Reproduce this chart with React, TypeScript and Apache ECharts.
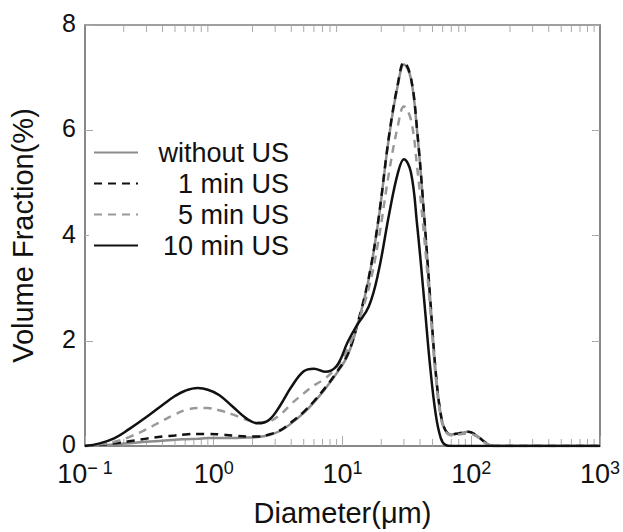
import React, { useEffect, useRef } from "react";
import * as echarts from "echarts";

// Particle diameter (µm)
const diameters = [0.1, 0.13, 0.17, 0.22, 0.3, 0.4, 0.5, 0.6, 0.75, 0.9, 1.1, 1.4, 1.8, 2.2, 2.7, 3.3, 4, 5, 6, 7.3, 9, 11, 13, 16, 19, 23, 27, 30, 34, 38, 43, 48, 53, 58, 63, 70, 80, 95, 110, 130, 150, 200, 1000];

// Volume fraction (%)
const withoutUS = [0, 0.01, 0.03, 0.05, 0.08, 0.1, 0.12, 0.13, 0.14, 0.15, 0.15, 0.15, 0.16, 0.17, 0.21, 0.29, 0.43, 0.63, 0.83, 1.08, 1.38, 1.73, 2.28, 3.18, 4.28, 5.88, 6.88, 7.25, 6.98, 5.98, 4.4, 2.8, 1.4, 0.6, 0.3, 0.22, 0.24, 0.27, 0.2, 0.06, 0, 0, 0];
const min1US = [0, 0.02, 0.05, 0.09, 0.14, 0.18, 0.2, 0.22, 0.23, 0.23, 0.22, 0.2, 0.18, 0.18, 0.22, 0.3, 0.45, 0.65, 0.85, 1.1, 1.4, 1.75, 2.3, 3.2, 4.3, 5.9, 6.9, 7.29, 7.0, 6.0, 4.4, 2.8, 1.4, 0.6, 0.3, 0.22, 0.24, 0.27, 0.2, 0.06, 0, 0, 0];
const min5US = [0, 0.03, 0.08, 0.17, 0.32, 0.48, 0.6, 0.68, 0.72, 0.72, 0.68, 0.6, 0.5, 0.45, 0.47, 0.6, 0.8, 1.0, 1.15, 1.28, 1.5, 1.85, 2.3, 3.0, 3.9, 5.2, 6.1, 6.45, 6.2, 5.3, 4.0, 2.6, 1.3, 0.55, 0.28, 0.2, 0.22, 0.24, 0.18, 0.05, 0, 0, 0];
const min10US = [0, 0.05, 0.15, 0.32, 0.55, 0.78, 0.95, 1.05, 1.1, 1.07, 0.97, 0.75, 0.52, 0.43, 0.5, 0.78, 1.12, 1.42, 1.47, 1.41, 1.52, 1.98, 2.3, 2.65, 3.3, 4.4, 5.2, 5.45, 5.2, 4.2, 2.8, 1.5, 0.6, 0.15, 0.02, 0, 0, 0, 0, 0, 0, 0, 0];

const seriesNames = ["without US", "1 min US", "5 min US", "10 min US"];

// Minor log ticks (2..9 × decade)
const minorTicks = [
  0.2, 0.3, 0.4, 0.5, 0.6, 0.7, 0.8, 0.9,
  2, 3, 4, 5, 6, 7, 8, 9,
  20, 30, 40, 50, 60, 70, 80, 90,
  200, 300, 400, 500, 600, 700, 800, 900,
];

const FONT = "Liberation Sans, Arial, sans-serif";

export default function App() {
  const ref = useRef<HTMLDivElement>(null);

  useEffect(() => {
    if (!ref.current) return;
    const chart = echarts.init(ref.current, undefined, { renderer: "svg" });
    const pair = (arr: number[]) => diameters.map((d, i) => [d, arr[i]]);
    const option: any = {
      animation: false,
      backgroundColor: "#fff",
      textStyle: { fontFamily: FONT },
      grid: {
        left: 83,
        right: 22,
        top: 25,
        bottom: 78,
        show: true,
        borderColor: "#808080",
        borderWidth: 1.5,
      },
      legend: {
        data: seriesNames,
        orient: "vertical",
        left: 89,
        top: 135,
        itemWidth: 44,
        itemHeight: 14,
        itemGap: 4,
        backgroundColor: "#fff",
        borderWidth: 0,
        padding: 4,
        itemStyle: { opacity: 0 },
        formatter: (name: string) => "{a|" + name + "}",
        textStyle: {
          fontSize: 27,
          color: "#111",
          fontFamily: FONT,
          rich: {
            a: { fontSize: 27, color: "#111", fontFamily: FONT, width: 146, align: "right", lineHeight: 30 },
          },
        },
      },
      xAxis: {
        type: "log",
        logBase: 10,
        min: 0.1,
        max: 1000,
        name: "Diameter(\u03bcm)",
        nameLocation: "middle",
        nameGap: 52,
        nameTextStyle: { fontSize: 29, color: "#111", fontFamily: FONT },
        axisLine: { show: true, lineStyle: { color: "#808080", width: 1.5 } },
        axisTick: { show: true, inside: true, length: 10, lineStyle: { color: "#aaa" } },
        splitLine: { show: false },
        axisLabel: {
          margin: 13,
          formatter: (v: number) => {
            const e = Math.round(Math.log10(v));
            const s = e < 0 ? "\u2212 " + Math.abs(e) : String(e);
            return "{b|10}{s|" + s + "}";
          },
          rich: {
            b: { fontSize: 27, color: "#111", fontFamily: FONT, verticalAlign: "bottom", lineHeight: 28 },
            s: { fontSize: 18, color: "#111", fontFamily: FONT, verticalAlign: "top", lineHeight: 28, padding: [0, 0, 10, 0] },
          },
        },
      },
      yAxis: [
        {
          type: "value",
          min: 0,
          max: 8,
          interval: 2,
          name: "Volume Fraction(%)",
          nameLocation: "middle",
          nameGap: 48,
          nameTextStyle: { fontSize: 29, color: "#111", fontFamily: FONT },
          axisLine: { show: true, lineStyle: { color: "#808080", width: 1.5 } },
          axisTick: { show: true, inside: true, length: 8, lineStyle: { color: "#aaa" } },
          splitLine: { show: false },
          axisLabel: {
            margin: 9,
            formatter: (v: number) => "{v|" + v + "}",
            rich: { v: { fontSize: 25, color: "#111", fontFamily: FONT, lineHeight: 18, padding: [0, 0, 4, 0] } },
          },
        },
        {
          type: "value",
          min: 0,
          max: 8,
          interval: 2,
          position: "right",
          axisLine: { show: true, lineStyle: { color: "#808080", width: 1.5 } },
          axisTick: { show: true, inside: true, length: 8, lineStyle: { color: "#aaa" } },
          splitLine: { show: false },
          axisLabel: { show: false },
        },
      ],
      series: [
        {
          name: "without US",
          type: "line",
          data: pair(withoutUS),
          smooth: 0.4,
          symbol: "none",
          z: 2,
          lineStyle: { color: "#8c8c8c", width: 2.5, type: "solid" },
          itemStyle: { color: "#8c8c8c" },
        },
        {
          name: "1 min US",
          type: "line",
          data: pair(min1US),
          smooth: 0.4,
          symbol: "none",
          z: 3,
          lineStyle: { color: "#111", width: 2.5, type: [8, 6] },
          itemStyle: { color: "#111" },
        },
        {
          name: "5 min US",
          type: "line",
          data: pair(min5US),
          smooth: 0.4,
          symbol: "none",
          z: 3,
          lineStyle: { color: "#999", width: 2.5, type: [8, 6] },
          itemStyle: { color: "#999" },
        },
        {
          name: "10 min US",
          type: "line",
          data: pair(min10US),
          smooth: 0.4,
          symbol: "none",
          z: 4,
          lineStyle: { color: "#111", width: 2.5, type: "solid" },
          itemStyle: { color: "#111" },
        },
        {
          type: "custom",
          name: "minorTicks",
          silent: true,
          z: 1,
          data: minorTicks.map((t) => [t]),
          encode: { x: 0 },
          renderItem: (_p: any, api: any) => {
            const v = api.value(0);
            const b = api.coord([v, 0]);
            const t = api.coord([v, 8]);
            const len = 7;
            const style = { stroke: "#aaa", lineWidth: 1 };
            return {
              type: "group",
              children: [
                { type: "line", shape: { x1: b[0], y1: b[1], x2: b[0], y2: b[1] - len }, style },
                { type: "line", shape: { x1: t[0], y1: t[1], x2: t[0], y2: t[1] + len }, style },
              ],
            };
          },
        },
      ],
    };
    chart.setOption(option);
    return () => chart.dispose();
  }, []);

  return (
    <div
      ref={ref}
      style={{ position: "fixed", left: 0, top: 0, width: 623, height: 532, background: "#fff" }}
    />
  );
}
